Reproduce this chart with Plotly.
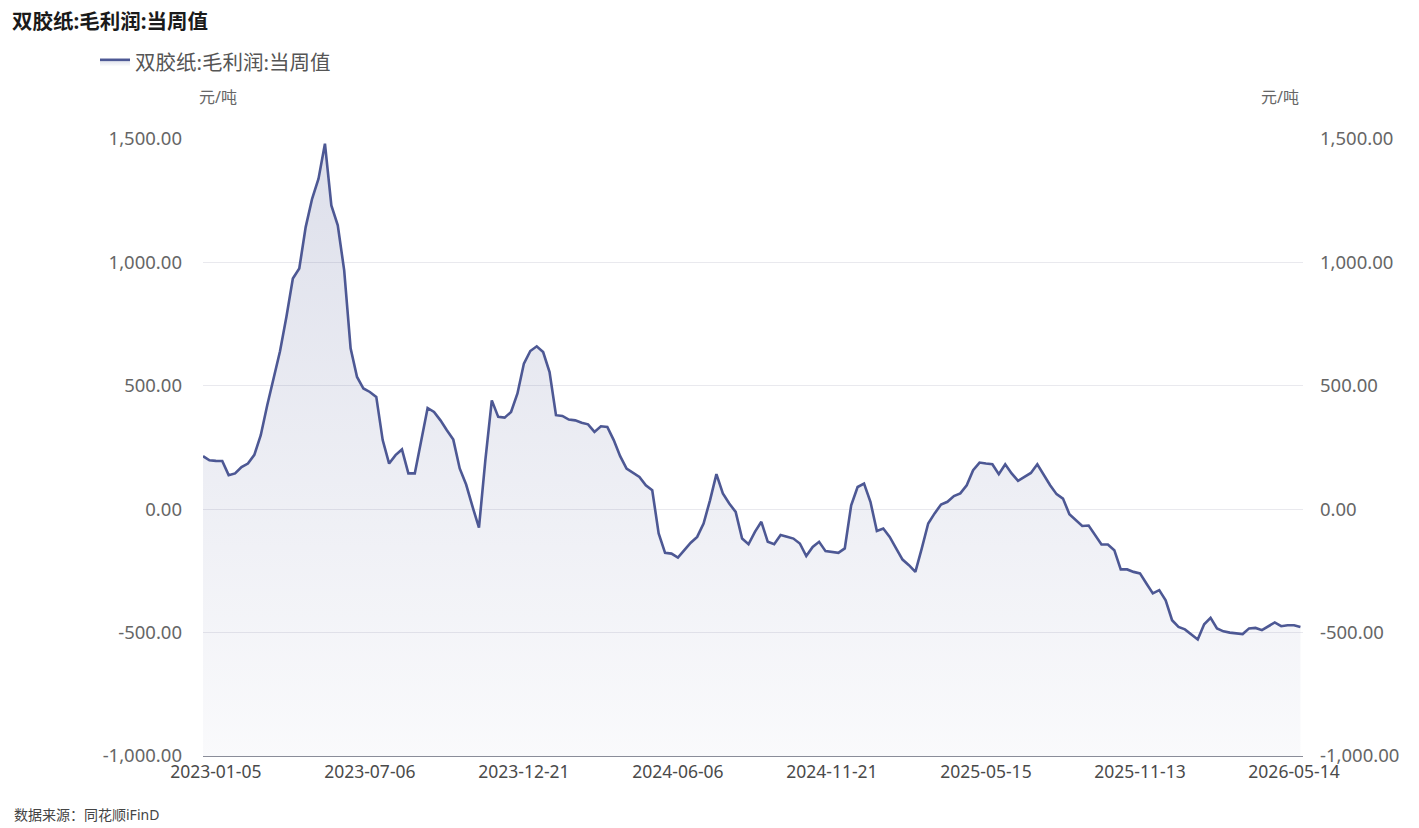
import pandas as pd
import plotly.graph_objects as go

# ---------------- data ----------------
TITLE = "双胶纸:毛利润:当周值"
SERIES_NAME = "双胶纸:毛利润:当周值"
UNIT = "元/吨"
SOURCE = "数据来源：同花顺iFinD"

# weekly reporting dates (category axis); weeks without a report are skipped
FIRST_DATE = "2022-12-22"
LAST_DATE = "2026-05-21"
SKIPPED_WEEKS = ["2023-01-26", "2023-02-02", "2025-01-30", "2025-10-02",
                 "2025-10-09", "2026-02-19", "2026-02-26"]

TICK_LABELS = ["2023-01-05", "2023-07-06", "2023-12-21", "2024-06-06",
               "2024-11-21", "2025-05-15", "2025-11-13", "2026-05-14"]

VALUES = [
    215, 198, 196, 195, 138, 145, 171, 185, 220, 300,
    420, 530, 640, 780, 935, 975, 1143, 1258, 1339, 1481,
    1231, 1150, 968, 652, 536, 489, 475, 455, 280, 185,
    219, 242, 145, 145, 280, 410, 394, 360, 320, 282,
    165, 100, 10, -75, 200, 441, 374, 371, 394, 469,
    590, 641, 660, 637, 556, 381, 378, 363, 360, 350,
    344, 313, 336, 333, 280, 215, 165, 148, 131, 97,
    77, -98, -177, -180, -196, -166, -136, -112, -58, 36,
    142, 64, 23, -11, -119, -142, -92, -51, -132, -142,
    -105, -112, -119, -139, -190, -153, -132, -170, -174, -177,
    -159, 16, 90, 104, 30, -88, -78, -112, -159, -204,
    -227, -254, -159, -58, -17, 19, 30, 53, 64, 97,
    158, 189, 185, 182, 142, 182, 145, 115, 131, 147,
    182, 138, 97, 61, 43, -20, -45, -68, -66, -105,
    -143, -143, -166, -244, -244, -254, -260, -301, -341, -328,
    -369, -450, -477, -487, -506, -528, -466, -440, -483, -495,
    -500, -503, -506, -483, -481, -490, -473, -459, -474, -470,
    -470, -477,
]

Y_MIN, Y_MAX, Y_STEP = -1000, 1500, 500

# ---------------- build ----------------
all_weeks = pd.date_range(FIRST_DATE, LAST_DATE, freq="7D").strftime("%Y-%m-%d")
DATES = [d for d in all_weeks if d not in SKIPPED_WEEKS]
DATES = DATES[:len(VALUES)]

LINE_COLOR = "#4d5894"
FONT = "Noto Sans, Noto Sans CJK SC, sans-serif"

# figure geometry (page has an 8px body margin)
W, H = 1411, 820
L, T, PW, PH = 195, 131, 1100, 617
R, B = W - L - PW, H - T - PH


def px_x(x):
    return (x - 8 - L) / PW


def px_y(y):
    return (T + PH - (y - 8)) / PH


fig = go.Figure()

# baseline at axis minimum so the area fills down to the bottom of the grid
fig.add_trace(go.Scatter(
    x=DATES, y=[Y_MIN] * len(DATES), mode="lines",
    line=dict(width=0, color="rgba(0,0,0,0)"),
    hoverinfo="skip", showlegend=False,
))
fig.add_trace(go.Scatter(
    x=DATES, y=VALUES, mode="lines", name=SERIES_NAME,
    line=dict(color=LINE_COLOR, width=2.6),
    fill="tonexty",
    fillgradient=dict(
        type="vertical", start=Y_MIN, stop=Y_MAX,
        colorscale=[[0, "rgba(77,88,148,0.03)"], [1, "rgba(77,88,148,0.19)"]],
    ),
))
# invisible copy bound to the right axis so it is drawn
fig.add_trace(go.Scatter(
    x=DATES, y=VALUES, yaxis="y2", mode="lines",
    line=dict(width=0, color="rgba(0,0,0,0)"),
    hoverinfo="skip", showlegend=False,
))

tickvals = list(range(Y_MIN, Y_MAX + 1, Y_STEP))
ticktext = [f"{v:,.2f}" for v in tickvals]

fig.update_layout(
    width=W, height=H,
    margin=dict(l=L, r=R, t=T, b=B),
    paper_bgcolor="white", plot_bgcolor="white",
    font=dict(family=FONT, color="#555555", size=16),
    title=dict(
        text="<b>" + TITLE + "</b>", x=(12 - 8) / W, xanchor="left",
        y=1 - (22 - 8) / H, yanchor="middle", yref="container",
        font=dict(size=20.5, color="#1a1a1a", family=FONT),
    ),
    showlegend=True,
    legend=dict(
        orientation="h", x=px_x(95), xanchor="left",
        y=px_y(62), yanchor="middle", yref="paper",
        font=dict(size=20.5, color="#555555", family=FONT),
        bgcolor="rgba(0,0,0,0)",
    ),
    xaxis=dict(
        type="category", range=[0, len(DATES) - 1 + 0.4],
        tickmode="array", tickvals=TICK_LABELS, ticktext=TICK_LABELS,
        showgrid=False, showline=True, linecolor="#8a8d99", linewidth=1.2,
        ticks="", tickfont=dict(size=17.5, color="#4a4a4a"),
        zeroline=False,
    ),
    yaxis=dict(
        range=[Y_MIN, Y_MAX], tickmode="array", tickvals=tickvals,
        ticktext=ticktext,
        showgrid=True, gridcolor="#e9e9ee", gridwidth=1,
        zeroline=False, showline=False, ticks="",
        tickfont=dict(size=18.5, color="#666666"), ticklabelstandoff=20,
    ),
    yaxis2=dict(
        range=[Y_MIN, Y_MAX], tickmode="array", tickvals=tickvals,
        ticktext=ticktext,
        overlaying="y", side="right", showgrid=False, zeroline=False,
        showline=False, ticks="",
        tickfont=dict(size=18.5, color="#666666"), ticklabelstandoff=16,
    ),
    annotations=[
        dict(text=UNIT, xref="paper", yref="paper", x=px_x(218),
             y=px_y(97), xanchor="center", yanchor="middle",
             showarrow=False, font=dict(size=16, color="#666666")),
        dict(text=UNIT, xref="paper", yref="paper", x=px_x(1280),
             y=px_y(97), xanchor="center", yanchor="middle",
             showarrow=False, font=dict(size=16, color="#666666")),
        dict(text=SOURCE, xref="paper", yref="paper", x=px_x(12),
             y=px_y(826), xanchor="left", yanchor="bottom",
             showarrow=False, font=dict(size=14, color="#444444")),
    ],
)

fig.write_html("out.html")
